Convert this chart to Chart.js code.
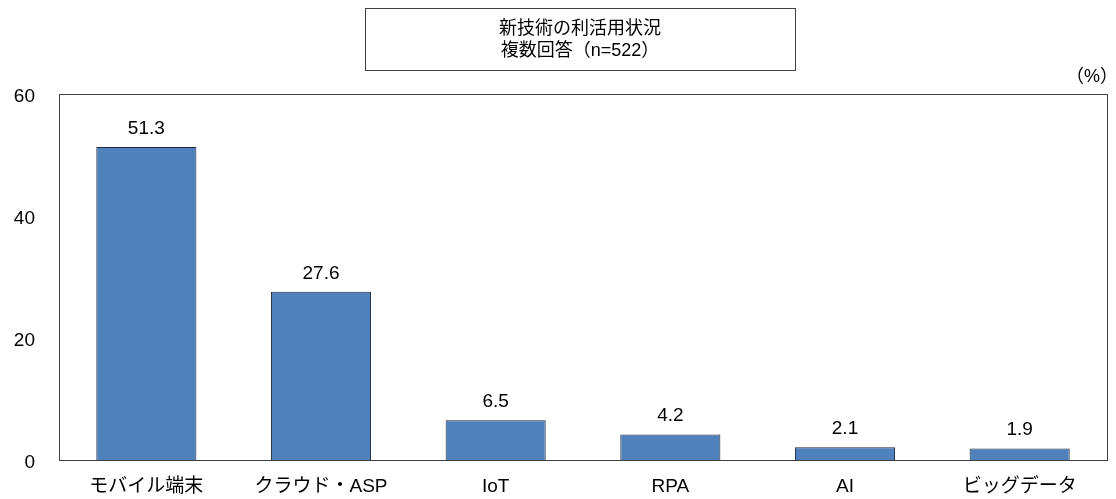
<!DOCTYPE html>
<html>
<head>
<meta charset="utf-8">
<script src="https://cdn.jsdelivr.net/npm/chart.js@4/dist/chart.umd.min.js"></script>
<style>
  html, body { margin: 0; padding: 0; background: #fff; }
  #wrap { width: 1116px; height: 499px; }
</style>
</head>
<body>
<div id="wrap"><canvas id="c" width="1116" height="499"></canvas></div>
<script>
const categories = ['モバイル端末', 'クラウド・ASP', 'IoT', 'RPA', 'AI', 'ビッグデータ']
const usageRates = [51.3, 27.6, 6.5, 4.2, 2.1, 1.9]
const yTicks = [0, 20, 40, 60]
const titleLines = ['新技術の利活用状況', '複数回答（n=522）']
const unitLabel = '（%）'

const FONT = '"Liberation Sans", "Noto Sans CJK JP", sans-serif'

const decor = {
  id: 'decor',
  afterDraw(chart) {
    const ctx = chart.ctx
    const a = chart.chartArea
    ctx.save()
    // plot frame
    ctx.strokeStyle = '#404040'
    ctx.lineWidth = 1
    ctx.strokeRect(Math.round(a.left) + 0.5, Math.round(a.top) + 0.5,
      Math.round(a.right - a.left), Math.round(a.bottom - a.top))

    // value labels
    ctx.fillStyle = '#000'
    ctx.font = '19px ' + FONT
    ctx.textAlign = 'center'
    ctx.textBaseline = 'alphabetic'
    chart.getDatasetMeta(0).data.forEach((bar, i) => {
      ctx.fillText(usageRates[i].toFixed(1), bar.x, bar.y - 13)
    })

    // title box
    ctx.strokeStyle = '#404040'
    ctx.strokeRect(365.5, 8.5, 430, 62)
    ctx.font = '18px ' + FONT
    ctx.textBaseline = 'middle'
    ctx.fillText(titleLines[0], 580, 29)
    ctx.fillText(titleLines[1], 580, 51)

    // unit
    ctx.font = '18px ' + FONT
    ctx.textAlign = 'right'
    ctx.fillText(unitLabel, 1118, 77)
    ctx.restore()
  }
}

new Chart(document.getElementById('c'), {
  type: 'bar',
  data: {
    labels: categories,
    datasets: [{
      data: usageRates,
      backgroundColor: '#4F81BD',
      borderColor: '#1e2a38',
      borderWidth: 1,
      categoryPercentage: 1,
      barPercentage: 0.573
    }]
  },
  options: {
    responsive: false,
    animation: false,
    layout: { padding: { top: 94, right: 9, left: 0, bottom: 0 } },
    plugins: { legend: { display: false }, tooltip: { enabled: false } },
    scales: {
      x: {
        grid: { display: false, drawTicks: false },
        border: { display: false },
        ticks: { color: '#000', font: { size: 19, family: FONT }, padding: 15 },
        afterFit(s) { s.height = 39 }
      },
      y: {
        min: 0, max: 60,
        afterBuildTicks(s) { s.ticks = yTicks.map(v => ({ value: v })) },
        grid: { display: false, drawTicks: false },
        border: { display: false },
        ticks: { color: '#000', font: { size: 19, family: FONT }, padding: 24, labelOffset: 3 },
        afterFit(s) { s.width = 59 }
      }
    }
  },
  plugins: [decor]
})
</script>
</body>
</html>
